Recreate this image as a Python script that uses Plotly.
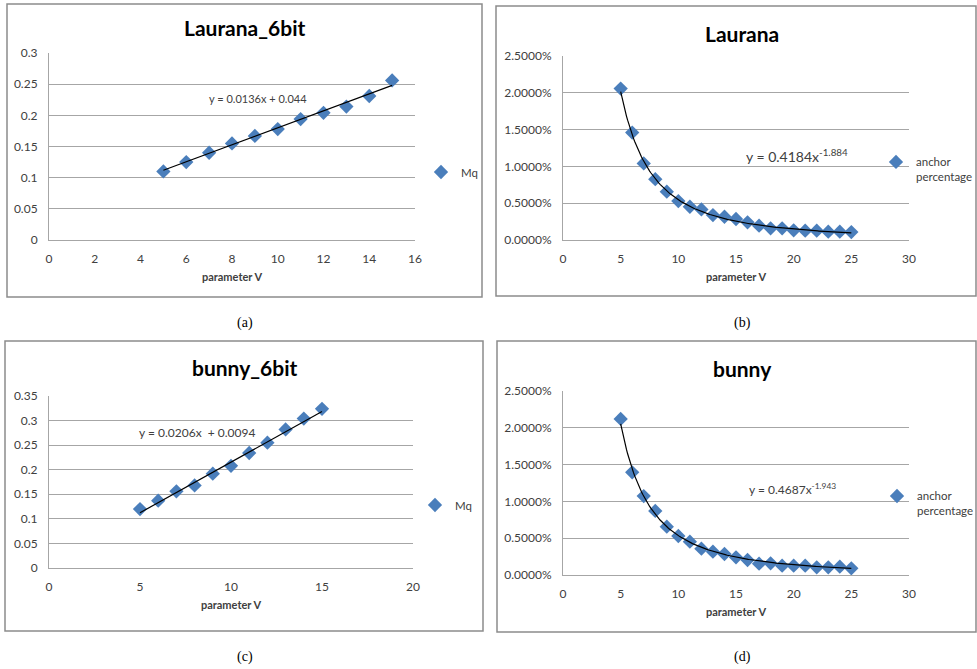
import numpy as np
import plotly.graph_objects as go

W, H = 977, 669

# ---------------- data ----------------
v_lin = [5, 6, 7, 8, 9, 10, 11, 12, 13, 14, 15]
mq_laurana = [0.110, 0.125, 0.140, 0.155, 0.167, 0.178, 0.194, 0.204, 0.214, 0.231, 0.256]
mq_bunny = [0.120, 0.137, 0.156, 0.168, 0.192, 0.208, 0.234, 0.255, 0.282, 0.304, 0.324]

v_pow = list(range(5, 26))
anchor_laurana = [0.02057, 0.01460, 0.01040, 0.00827, 0.00656, 0.00529, 0.00452, 0.00416,
                  0.00339, 0.00316, 0.00285, 0.00240, 0.00194, 0.00158, 0.00158, 0.00131,
                  0.00127, 0.00127, 0.00113, 0.00113, 0.00108]
anchor_bunny = [0.02120, 0.01395, 0.01073, 0.00870, 0.00657, 0.00530, 0.00453, 0.00358,
                0.00317, 0.00285, 0.00240, 0.00204, 0.00154, 0.00158, 0.00127, 0.00127,
                0.00127, 0.00104, 0.00104, 0.00113, 0.00091]

# trendline coefficients (as printed on the charts)
lin_laurana = [0.0136, 0.044]
lin_bunny = [0.0206, 0.0094]
pow_laurana = [0.4184, -1.884]
pow_bunny = [0.4687, -1.943]

titles = ["Laurana_6bit", "Laurana", "bunny_6bit", "bunny"]
captions = ["(a)", "(b)", "(c)", "(d)"]

# ---------------- styling ----------------
BLUE = "#4a7ebb"
GRID = "#a6a6a6"
TXT = "#404040"
FONT = "Lato, Carlito, Calibri, sans-serif"


def px_x(p):
    return p / W


def px_y(p):
    return 1 - p / H


fig = go.Figure()

# panel geometry in pixels: (x0, x1, ytop, ybottom)
panels = [
    (49, 415, 53, 240),
    (563, 909, 56, 240),
    (49, 413, 396, 568),
    (563, 909, 391, 575),
]
boxes = [(7, 482, 4, 297), (496, 976, 6, 296), (5, 483, 341, 631), (497, 976, 341, 632)]

xranges = [[0, 16], [0, 30], [0, 20], [0, 30]]
xdticks = [2, 5, 5, 5]
yranges = [[0, 0.3], [0, 0.025], [0, 0.35], [0, 0.025]]
ydticks = [0.05, 0.005, 0.05, 0.005]
yformats = ["", ".4%", "", ".4%"]

series = [
    (v_lin, mq_laurana, "Mq", "lin", lin_laurana),
    (v_pow, anchor_laurana, "anchor<br>percentage", "pow", pow_laurana),
    (v_lin, mq_bunny, "Mq", "lin", lin_bunny),
    (v_pow, anchor_bunny, "anchor<br>percentage", "pow", pow_bunny),
]

# position of the legend symbol centre (pixels)
legend_sym = [(441, 168), (896, 158), (435, 501), (897, 492)]

layout_updates = {}
for i in range(4):
    n = "" if i == 0 else str(i + 1)
    x0, x1, yt, yb = panels[i]
    layout_updates["xaxis" + n] = dict(
        domain=[px_x(x0), px_x(x1)], range=xranges[i], dtick=xdticks[i], tick0=0,
        anchor="y" + n, showgrid=False, zeroline=False, showline=True,
        linecolor=GRID, linewidth=1, ticks="", ticklen=0, automargin=False,
        ticklabelstandoff=8,
        tickfont=dict(family=FONT, size=12, color=TXT),
        title=dict(text="<b>parameter V</b>", font=dict(family=FONT, size=11, color=TXT), standoff=7),
        fixedrange=True,
    )
    layout_updates["yaxis" + n] = dict(
        domain=[px_y(yb), px_y(yt)], range=yranges[i], dtick=ydticks[i], tick0=0,
        anchor="x" + n, showgrid=True, gridcolor=GRID, gridwidth=1, zeroline=False,
        showline=True, linecolor=GRID, linewidth=1, ticks="", ticklen=0, automargin=False,
        ticklabelstandoff=8,
        tickformat=yformats[i], tickfont=dict(family=FONT, size=12, color=TXT),
        fixedrange=True,
    )
    lg = "legend" if i == 0 else "legend" + str(i + 1)
    sx, sy = legend_sym[i]
    # legend symbol sits ~20px right of the legend's left edge
    layout_updates[lg] = dict(
        x=px_x(sx - 20), y=px_y(sy - 10), xanchor="left", yanchor="top",
        bgcolor="rgba(0,0,0,0)", borderwidth=0, valign="top",
        font=dict(family=FONT, size=11.5, color=TXT), itemwidth=30, tracegroupgap=0,
    )

    xs, ys, name, kind, coef = series[i]
    fig.add_trace(go.Scatter(
        x=xs, y=ys, mode="markers", name=name,
        marker=dict(symbol="diamond", size=11, color=BLUE, line=dict(width=0)),
        xaxis="x" + n, yaxis="y" + n, legend=lg, showlegend=True,
    ))
    # trendline
    if kind == "lin":
        tx = np.array([xs[0], xs[-1]], dtype=float)
        ty = coef[0] * tx + coef[1]
    else:
        tx = np.linspace(xs[0], xs[-1], 200)
        ty = coef[0] * tx ** coef[1]
    fig.add_trace(go.Scatter(
        x=tx, y=ty, mode="lines", line=dict(color="black", width=1.2),
        xaxis="x" + n, yaxis="y" + n, showlegend=False, hoverinfo="skip",
    ))

fig.update_layout(**layout_updates)

shapes = []
for (bx0, bx1, by0, by1) in boxes:
    shapes.append(dict(type="rect", xref="paper", yref="paper",
                       x0=px_x(bx0), x1=px_x(bx1), y0=px_y(by1), y1=px_y(by0),
                       line=dict(color="#8c8c8c", width=1.5), fillcolor="rgba(0,0,0,0)", layer="below"))

annotations = []
title_pos = [(245, 28), (742, 33), (245, 367), (742, 368)]
for (tx_, ty_), t in zip(title_pos, titles):
    annotations.append(dict(text="<b>" + t + "</b>", x=px_x(tx_), y=px_y(ty_), xref="paper", yref="paper",
                            showarrow=False, xanchor="center", yanchor="middle",
                            font=dict(family=FONT, size=21, color="black")))
cap_pos = [(245, 323), (742, 323), (245, 657), (742, 657)]
for (cx, cy), c in zip(cap_pos, captions):
    annotations.append(dict(text=c, x=px_x(cx), y=px_y(cy), xref="paper", yref="paper",
                            showarrow=False, xanchor="center", yanchor="middle",
                            font=dict(family="Liberation Serif, Times New Roman, serif", size=14, color="black")))

eqs = [
    ("y = 0.0136x + 0.044", 258, 99, 11),
    ("y = 0.4184x<sup>-1.884</sup>", 797, 155, 14),
    ("y = 0.0206x  + 0.0094", 197, 432, 12),
    ("y = 0.4687x<sup>-1.943</sup>", 792, 489, 12),
]
for t, ex, ey, fs in eqs:
    annotations.append(dict(text=t, x=px_x(ex), y=px_y(ey), xref="paper", yref="paper",
                            showarrow=False, xanchor="center", yanchor="middle",
                            font=dict(family=FONT, size=fs, color=TXT)))

fig.update_layout(
    width=W, height=H, margin=dict(l=0, r=0, t=0, b=0, autoexpand=False),
    paper_bgcolor="white", plot_bgcolor="white",
    shapes=shapes, annotations=annotations, showlegend=True,
)

fig.write_html("out.html", config={"displayModeBar": False},
               post_script="document.body.style.margin='0';document.body.style.overflow='hidden';")
